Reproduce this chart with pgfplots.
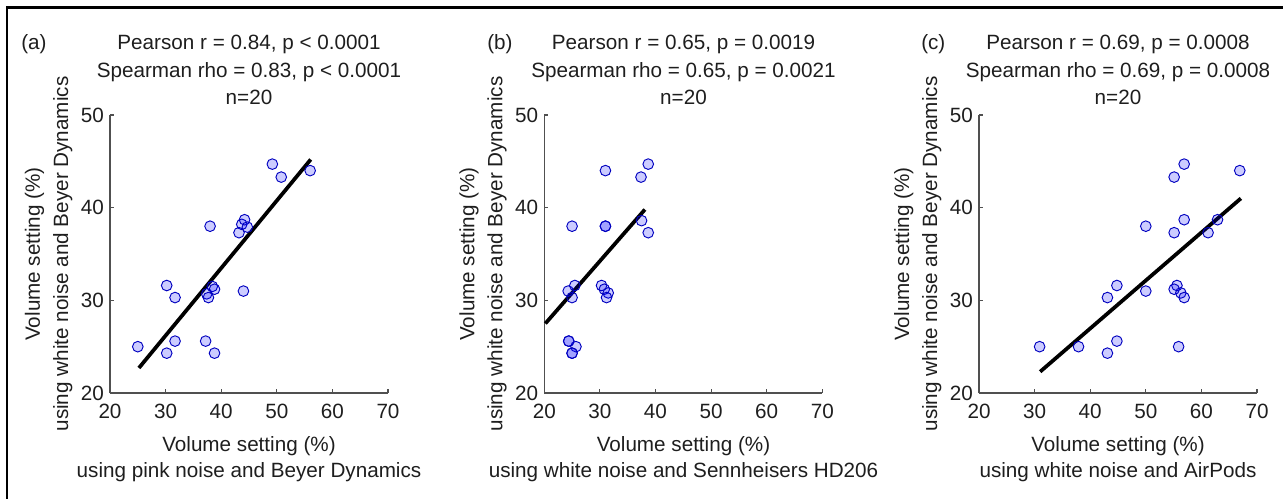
\documentclass[border=0pt]{standalone}
\usepackage{fontspec}
\setmainfont{Liberation Sans}
\usepackage{pgfplots}
\pgfplotsset{compat=1.18}

\definecolor{axgray}{RGB}{80,80,80}
\definecolor{txt}{RGB}{30,30,30}

\newcommand{\tf}{\fontsize{15.5}{18}\selectfont}

\pgfplotsset{
  panel/.style={
    scale only axis, width=208.5pt, height=208.5pt,
    anchor=south west,
    xmin=20, xmax=70, ymin=20, ymax=50,
    xtick={20,30,...,70}, ytick={20,30,40,50},
    axis x line*=bottom, axis y line*=left,
    axis line style={axgray, line width=0.8pt},
    tick style={axgray, line width=0.8pt},
    tick align=inside, major tick length=3pt,
    tick label style={font=\tf, text=txt},
    xticklabel style={yshift=-5pt},
    yticklabel style={xshift=-1pt},
    /pgf/number format/assume math mode=true,
    clip=false,
  },
  pts/.style={only marks, mark=*, mark size=4pt,
    mark options={draw=blue!75!black, fill=blue, fill opacity=0.2, draw opacity=1, line width=0.7pt}},
  fit/.style={black, line width=2.8pt},
}

\begin{document}
\begin{tikzpicture}

% (a) pink noise, Beyer Dynamics
\begin{axis}[panel, at={(82.5pt,-294.75pt)}]
\addplot[pts] coordinates {
(25.0,25.0) (30.2,24.3) (30.2,31.6) (31.7,30.3) (31.7,25.6)
(37.2,25.6) (38.8,24.3) (38.0,38.0) (37.4,30.7) (37.7,30.3)
(38.4,31.5) (38.8,31.2) (44.0,31.0) (43.2,37.3) (43.7,38.2)
(44.2,38.7) (44.7,37.9) (49.2,44.7) (50.8,43.3) (56.0,44.0)
};
\addplot[fit] coordinates {(25.2,22.7) (56.1,45.2)};
\end{axis}

% (b) white noise, Sennheiser HD206
\begin{axis}[panel, at={(408.2pt,-294.75pt)}]
\addplot[pts] coordinates {
(31.0,44.0) (37.4,43.3) (38.7,44.7) (25.0,38.0) (31.0,38.0)
(37.5,38.6) (38.7,37.3) (24.3,31.0) (25.5,31.6) (25.0,30.3)
(30.3,31.6) (30.8,31.2) (31.5,30.8) (31.2,30.3) (24.4,25.6)
(25.7,25.0) (25.0,24.3) (25.0,24.3) (24.4,25.6) (31.0,38.0)
};
\addplot[fit] coordinates {(20.2,27.5) (38.1,39.8)};
\end{axis}

% (c) white noise, AirPods
\begin{axis}[panel, at={(734.25pt,-294.75pt)}]
\addplot[pts] coordinates {
(30.9,25.0) (37.9,25.0) (43.1,24.3) (44.8,25.6) (43.1,30.3)
(44.8,31.6) (50.0,31.0) (50.0,38.0) (55.1,43.3) (56.9,44.7)
(66.9,44.0) (56.9,38.7) (55.1,37.3) (61.2,37.3) (62.9,38.7)
(55.6,31.6) (55.1,31.2) (56.3,30.8) (56.9,30.3) (55.9,25.0)
};
\addplot[fit] coordinates {(31.0,22.3) (67.1,41.0)};
\end{axis}

\begin{scope}[x=0.75pt, y=-0.75pt]
\useasboundingbox (0,0) rectangle (1283,499);
\draw[line width=2pt] (6,7.3) -- (1283,7.3);
\draw[line width=2pt] (7,6.3) -- (7,499);

\foreach \cx/\la/\lb/\ylx/\xl in {
  249/{Pearson r = 0.84, p < 0.0001}/{Spearman rho = 0.83, p < 0.0001}/110/{using pink noise and Beyer Dynamics},
  683.5/{Pearson r = 0.65, p = 0.0019}/{Spearman rho = 0.65, p = 0.0021}/544.3/{using white noise and Sennheisers HD206},
  1118/{Pearson r = 0.69, p = 0.0008}/{Spearman rho = 0.69, p = 0.0008}/979/{using white noise and AirPods}}{
  \node[anchor=base, font=\tf, text=txt, inner sep=0] at (\cx,49.5) {\la};
  \node[anchor=base, font=\tf, text=txt, inner sep=0] at (\cx,77.5) {\lb};
  \node[anchor=base, font=\tf, text=txt, inner sep=0] at (\cx,105) {n=20};
  \node[anchor=base, font=\tf, text=txt, inner sep=0] at (\cx,451) {Volume setting (\%)};
  \node[anchor=base, font=\tf, text=txt, inner sep=0] at (\cx,477.5) {\xl};
  \node[anchor=base, rotate=90, font=\tf, text=txt, inner sep=0] at ({\ylx-70},254) {Volume setting (\%)};
  \node[anchor=base, rotate=90, font=\tf, text=txt, inner sep=0] at ({\ylx-42},254) {using white noise and Beyer Dynamics};
}
\node[anchor=base west, font=\tf, text=txt, inner sep=0] at (21,49.5) {(a)};
\node[anchor=base west, font=\tf, text=txt, inner sep=0] at (487,49.5) {(b)};
\node[anchor=base west, font=\tf, text=txt, inner sep=0] at (921,49.5) {(c)};
\end{scope}

\end{tikzpicture}
\end{document}
